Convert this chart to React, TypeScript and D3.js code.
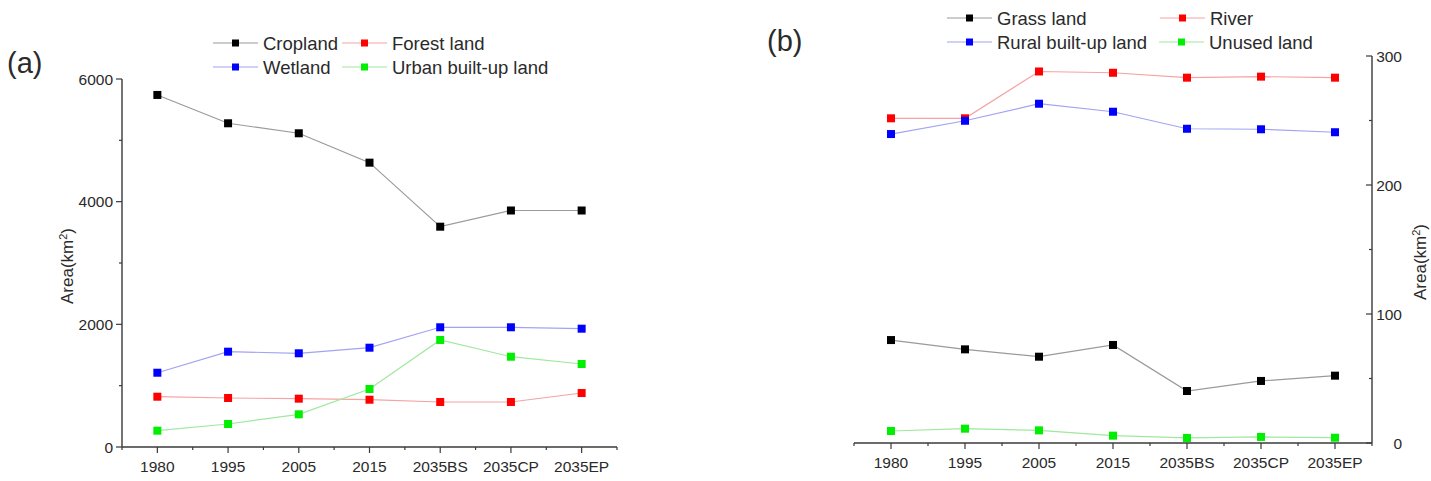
import React from "react";
import * as d3 from "d3";

const categories = ["1980", "1995", "2005", "2015", "2035BS", "2035CP", "2035EP"];

// Panel (a)
const cropland = [5740, 5278, 5115, 4636, 3592, 3856, 3856];
const forestLand = [820, 799, 788, 771, 734, 734, 880];
const wetland = [1211, 1554, 1528, 1619, 1952, 1952, 1929];
const urbanBuiltUp = [266, 375, 533, 946, 1745, 1472, 1353];
const yTicksA = [0, 2000, 4000, 6000];
const yMinorA = [1000, 3000, 5000];

// Panel (b)
const grassLand = [79.8, 72.6, 66.9, 76, 40.3, 48.1, 52.2];
const river = [251.7, 251.7, 288, 287, 283.2, 284, 283.2];
const ruralBuiltUp = [239.5, 249.8, 263, 256.8, 243.6, 243.2, 240.9];
const unusedLand = [9.3, 11.1, 9.8, 5.7, 3.9, 4.7, 4.1];
const yTicksB = [0, 100, 200, 300];
const yMinorB = [50, 150, 250];

const FONT = "'Liberation Sans', Arial, Helvetica, sans-serif";
const AXIS = "#3a3a3a";
const TXT = "#2a2a2a";

type Series = { name: string; values: number[]; color: string; line: string };

const seriesA: Series[] = [
  { name: "Cropland", values: cropland, color: "#000000", line: "#9a9a9a" },
  { name: "Forest land", values: forestLand, color: "#ff0000", line: "#f5a3a3" },
  { name: "Wetland", values: wetland, color: "#0000ff", line: "#a3a3f2" },
  { name: "Urban built-up land", values: urbanBuiltUp, color: "#00ee00", line: "#9fe89f" },
];
const seriesB: Series[] = [
  { name: "Grass land", values: grassLand, color: "#000000", line: "#9a9a9a" },
  { name: "River", values: river, color: "#ff0000", line: "#f5a3a3" },
  { name: "Rural built-up land", values: ruralBuiltUp, color: "#0000ff", line: "#a3a3f2" },
  { name: "Unused land", values: unusedLand, color: "#00ee00", line: "#9fe89f" },
];

function Marker({ x, y, color }: { x: number; y: number; color: string }) {
  return <rect x={x - 4} y={y - 4} width={8} height={8} fill={color} />;
}

function LegendItem({ x, y, s }: { x: number; y: number; s: Series }) {
  return (
    <g>
      <line x1={x} x2={x + 45} y1={y} y2={y} stroke={s.line} strokeWidth={1.2} />
      <rect x={x + 19} y={y - 3.5} width={7} height={7} fill={s.color} />
      <text x={x + 50} y={y + 6.5} fontSize={18.5} fill={TXT} fontFamily={FONT}>
        {s.name}
      </text>
    </g>
  );
}

function Panel({
  series,
  x0,
  x1,
  yBottom,
  yTop,
  domain,
  ticks,
  minor,
  right,
}: {
  series: Series[];
  x0: number;
  x1: number;
  yBottom: number;
  yTop: number;
  domain: [number, number];
  ticks: number[];
  minor: number[];
  right: boolean;
}) {
  const x = d3.scalePoint<string>().domain(categories).range([x0, x1]).padding(0.5);
  const y = d3.scaleLinear().domain(domain).range([yBottom, yTop]);
  const step = x.step();
  const line = d3
    .line<number>()
    .x((_, i) => x(categories[i]) as number)
    .y((d) => y(d));
  const axX = right ? x1 : x0;
  const dir = right ? -1 : 1; // ticks: left axis outward (left), right axis inward (left)
  const minorX = d3.range(categories.length + 1).map((i) => x0 + i * step);
  return (
    <g>
      {/* lines */}
      {series.map((s) => (
        <path key={s.name + "l"} d={line(s.values) || ""} fill="none" stroke={s.line} strokeWidth={1.2} />
      ))}
      {series.map((s) =>
        s.values.map((v, i) => (
          <Marker key={s.name + i} x={x(categories[i]) as number} y={y(v)} color={s.color} />
        ))
      )}
      {/* x axis */}
      <line x1={x0} x2={x1} y1={yBottom} y2={yBottom} stroke={AXIS} strokeWidth={1.4} />
      {categories.map((c) => (
        <g key={c}>
          <line x1={x(c) as number} x2={x(c) as number} y1={yBottom} y2={yBottom + 6} stroke={AXIS} strokeWidth={1.2} />
          <text
            x={x(c) as number}
            y={yBottom + 25}
            textAnchor="middle"
            fontSize={15.5}
            fill={TXT}
            fontFamily={FONT}
          >
            {c}
          </text>
        </g>
      ))}
      {minorX.map((mx, i) => (
        <line key={"mx" + i} x1={mx} x2={mx} y1={yBottom} y2={yBottom + 3} stroke={AXIS} strokeWidth={1.2} />
      ))}
      {/* y axis */}
      <line x1={axX} x2={axX} y1={yBottom} y2={y(domain[1])} stroke={AXIS} strokeWidth={1.4} />
      {ticks.map((t) => (
        <g key={"t" + t}>
          <line x1={axX} x2={right ? axX - 6 : axX - 6} y1={y(t)} y2={y(t)} stroke={AXIS} strokeWidth={1.2} />
          <text
            x={right ? axX + 30 : axX - 9}
            y={y(t) + 5.5}
            textAnchor="end"
            fontSize={15.5}
            fill={TXT}
            fontFamily={FONT}
          >
            {t}
          </text>
        </g>
      ))}
      {minor.map((t) => (
        <line key={"m" + t} x1={axX} x2={axX - 3 * Math.abs(dir)} y1={y(t)} y2={y(t)} stroke={AXIS} strokeWidth={1.2} />
      ))}
    </g>
  );
}

export default function App() {
  return (
    <svg
      width={1431}
      height={481}
      style={{ position: "absolute", left: 0, top: 0, background: "#fff" }}
    >
      <rect x={0} y={0} width={1431} height={481} fill="#ffffff" />
      {/* Panel (a) */}
      <text x={7} y={73} fontSize={29} fill={TXT} fontFamily={FONT}>(a)</text>
      <LegendItem x={213} y={43} s={seriesA[0]} />
      <LegendItem x={342} y={43} s={seriesA[1]} />
      <LegendItem x={213} y={67} s={seriesA[2]} />
      <LegendItem x={342} y={67} s={seriesA[3]} />
      <Panel
        series={seriesA}
        x0={122}
        x1={617}
        yBottom={447}
        yTop={79}
        domain={[0, 6000]}
        ticks={yTicksA}
        minor={yMinorA}
        right={false}
      />
      <text
        transform="translate(73,266) rotate(-90)"
        textAnchor="middle"
        fontSize={17}
        fill={TXT}
        fontFamily={FONT}
      >
        Area(km<tspan dy={-6} fontSize={11}>2</tspan><tspan dy={6}>)</tspan>
      </text>

      {/* Panel (b) */}
      <text x={767} y={51} fontSize={29} fill={TXT} fontFamily={FONT}>(b)</text>
      <LegendItem x={947} y={18} s={seriesB[0]} />
      <LegendItem x={1160} y={18} s={seriesB[1]} />
      <LegendItem x={947} y={42} s={seriesB[2]} />
      <LegendItem x={1159} y={42} s={seriesB[3]} />
      <Panel
        series={seriesB}
        x0={854}
        x1={1372}
        yBottom={443}
        yTop={56}
        domain={[0, 300]}
        ticks={yTicksB}
        minor={yMinorB}
        right={true}
      />
      <text
        transform="translate(1426,262) rotate(-90)"
        textAnchor="middle"
        fontSize={17}
        fill={TXT}
        fontFamily={FONT}
      >
        Area(km<tspan dy={-6} fontSize={11}>2</tspan><tspan dy={6}>)</tspan>
      </text>
    </svg>
  );
}
